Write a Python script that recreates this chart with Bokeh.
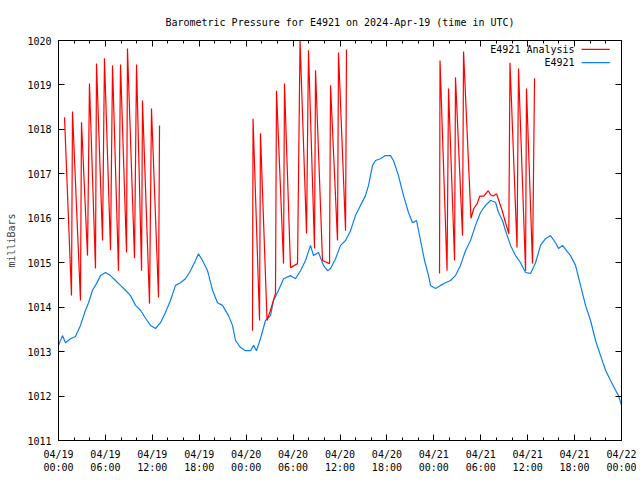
import math
from bokeh.plotting import figure
from bokeh.models import LinearAxis, FixedTicker, Range1d, CustomLabelingPolicy
from bokeh.core.properties import value
from bokeh.embed import file_html
from bokeh.resources import INLINE

NaN = float("nan")

TITLE = "Barometric Pressure for E4921 on 2024-Apr-19 (time in UTC)"
Y_LABEL = "milliBars"
SERIES_ANALYSIS = "E4921 Analysis"
SERIES_OBS = "E4921"

# hours since 2024-04-19 00:00 UTC
x_tick_hours = [0, 6, 12, 18, 24, 30, 36, 42, 48, 54, 60, 66, 72]
x_tick_labels = ["04/19\n00:00", "04/19\n06:00", "04/19\n12:00", "04/19\n18:00",
                 "04/20\n00:00", "04/20\n06:00", "04/20\n12:00", "04/20\n18:00",
                 "04/21\n00:00", "04/21\n06:00", "04/21\n12:00", "04/21\n18:00",
                 "04/22\n00:00"]
x_minor_hours = list(range(0, 73, 2))
y_ticks = [1011, 1012, 1013, 1014, 1015, 1016, 1017, 1018, 1019, 1020]

# E4921 observed pressure
obs_hours = [0.0, 0.51, 0.90, 1.53, 2.17, 2.81, 3.45, 3.84, 4.35, 4.86, 5.37, 6.01,
             6.65, 7.29, 7.93, 8.57, 9.21, 9.85, 10.49, 11.13, 11.77, 12.41, 13.05,
             13.68, 14.32, 14.96, 15.60, 16.24, 16.88, 17.52, 17.90, 18.42, 19.06,
             19.70, 20.33, 20.97, 21.74, 22.25, 22.64, 23.28, 23.92, 24.56, 24.94,
             25.32, 25.83, 26.47, 27.11, 27.50, 28.14, 28.78, 29.67, 30.31, 30.95,
             31.59, 32.23, 32.61, 33.25, 33.89, 34.40, 34.79, 35.43, 36.07, 36.71,
             37.34, 37.98, 38.62, 39.26, 39.65, 40.16, 40.54, 41.18, 41.82, 42.46,
             42.84, 43.48, 44.12, 44.76, 45.27, 45.79, 46.30, 46.81, 47.32, 47.58,
             48.22, 48.86, 49.49, 50.13, 50.77, 51.41, 52.05, 52.69, 53.33, 53.97,
             54.61, 55.25, 55.89, 56.27, 56.78, 57.17, 57.81, 58.45, 59.09, 59.73,
             60.37, 61.01, 61.64, 62.28, 62.92, 63.56, 63.95, 64.46, 64.97, 65.48,
             66.12, 66.76, 67.40, 68.04, 68.68, 69.32, 69.96, 70.60, 71.24, 71.62,
             72.0]
obs_pressure = [1013.14, 1013.36, 1013.20, 1013.29, 1013.34, 1013.59, 1013.93, 1014.10,
                1014.38, 1014.53, 1014.71, 1014.78, 1014.71, 1014.60, 1014.49, 1014.38,
                1014.26, 1014.04, 1013.93, 1013.75, 1013.59, 1013.52, 1013.65, 1013.88,
                1014.15, 1014.49, 1014.55, 1014.64, 1014.82, 1015.05, 1015.20, 1015.05,
                1014.82, 1014.38, 1014.10, 1014.04, 1013.81, 1013.59, 1013.25, 1013.09,
                1013.02, 1013.02, 1013.14, 1013.02, 1013.29, 1013.70, 1013.81, 1014.15,
                1014.38, 1014.64, 1014.71, 1014.64, 1014.82, 1015.05, 1015.39, 1015.16,
                1015.23, 1014.94, 1014.82, 1014.87, 1015.09, 1015.39, 1015.50, 1015.72,
                1016.06, 1016.29, 1016.51, 1016.74, 1017.19, 1017.30, 1017.34, 1017.41,
                1017.41, 1017.30, 1016.96, 1016.51, 1016.13, 1015.90, 1015.95, 1015.50,
                1015.05, 1014.71, 1014.49, 1014.42, 1014.49, 1014.55, 1014.60, 1014.71,
                1014.94, 1015.27, 1015.50, 1015.84, 1016.13, 1016.29, 1016.40, 1016.36,
                1016.13, 1015.95, 1015.72, 1015.39, 1015.16, 1015.00, 1014.78, 1014.76,
                1015.00, 1015.39, 1015.54, 1015.61, 1015.45, 1015.32, 1015.39, 1015.27,
                1015.16, 1014.94, 1014.49, 1014.04, 1013.70, 1013.25, 1012.91, 1012.58,
                1012.35, 1012.13, 1012.01, 1011.79]

# E4921 Analysis (gaps where no analysis)
ana_hours = [0.77, 1.66, 1.79, 2.81, 2.94, 3.71, 3.96, 4.73, 4.86, 5.63, 5.88, 6.65,
             6.91, 7.67, 7.93, 8.70, 8.82, 9.72, 9.98, 10.62, 10.74, 11.64, 11.89,
             12.79, 12.92,
             NaN,
             24.81, 24.88, 25.71, 25.83, 26.67, 27.11, 27.75, 27.88, 28.78, 28.90,
             29.67, 30.57, 30.89, 31.72, 31.97, 32.74, 32.87, 33.76, 34.66, 34.79,
             35.68, 35.81, 36.71, 36.83,
             NaN,
             48.73, 48.79, 49.69, 49.88, 50.65, 50.77, 51.67, 51.80, 52.75, 53.11,
             53.55, 53.88, 54.39, 54.96, 55.25, 55.60, 56.02, 56.31, 56.75, 57.17,
             57.59, 57.74, 58.64, 58.83, 59.73, 59.85, 60.62, 60.88]
ana_pressure = [1018.27, 1014.26, 1018.40, 1014.15, 1018.16, 1015.16, 1019.03, 1014.87,
                1019.48, 1015.50, 1019.60, 1015.28, 1019.44, 1014.82, 1019.46, 1015.23,
                1019.82, 1015.10, 1019.46, 1014.82, 1018.65, 1014.08, 1018.47, 1014.22,
                1018.09,
                NaN,
                1013.47, 1018.24, 1013.70, 1017.91, 1013.70, 1013.93, 1014.31, 1018.87,
                1014.98, 1019.03, 1014.89, 1014.98, 1020.00, 1015.66, 1019.78, 1015.32,
                1019.33, 1015.05, 1014.98, 1018.99, 1015.50, 1019.73, 1015.72, 1019.80,
                NaN,
                1014.76, 1019.55, 1014.82, 1018.92, 1015.05, 1019.17, 1015.61, 1019.75,
                1016.00, 1016.22, 1016.33, 1016.50, 1016.50, 1016.62, 1016.53, 1016.50,
                1016.55, 1016.40, 1016.17, 1015.90, 1015.65, 1019.50, 1015.34, 1019.37,
                1014.82, 1018.92, 1014.98, 1019.15]

FONT = "DejaVu Sans Mono"
RED = "#ff0000"
BLUE = "#0a80f0"

p = figure(width=636, height=476, output_backend="svg", toolbar_location=None,
           x_range=Range1d(0, 72), y_range=Range1d(1011, 1020),
           min_border_left=58, min_border_right=15, min_border_top=40,
           min_border_bottom=36)
p.grid.visible = False
p.outline_line_color = "black"
p.outline_line_width = 1
p.background_fill_color = "white"
p.border_fill_color = "white"

xt = FixedTicker(ticks=x_tick_hours, minor_ticks=x_minor_hours)
yt = FixedTicker(ticks=y_ticks, minor_ticks=[])

left = p.left[0]
bottom = p.below[0]
left.ticker = yt
bottom.ticker = xt
bottom.major_label_overrides = {h: lab for h, lab in zip(x_tick_hours, x_tick_labels)}
left.major_label_overrides = {t: str(t) for t in y_ticks}
left.axis_label = Y_LABEL
left.axis_label_text_font = FONT
left.axis_label_text_font_size = "10px"
left.axis_label_text_font_style = "normal"
left.axis_label_standoff = 7

# mirrored tick marks (no labels) on top and right, as gnuplot draws them;
# the top one also carries the chart title
no_labels = CustomLabelingPolicy(code="return new Set()")
top = LinearAxis(ticker=xt, major_label_policy=no_labels,
                 major_label_overrides={h: "" for h in x_tick_hours},
                 axis_label=TITLE)
right = LinearAxis(ticker=yt, major_label_policy=no_labels,
                   major_label_overrides={t: "" for t in y_ticks})
p.add_layout(top, "above")
p.add_layout(right, "right")

for ax in (left, bottom, top, right):
    ax.axis_line_color = "black"
    ax.major_tick_line_color = "black"
    ax.minor_tick_line_color = "black"
    ax.major_tick_in = 6
    ax.major_tick_out = 0
    ax.minor_tick_in = 3
    ax.minor_tick_out = 0
    ax.major_label_text_font = FONT
    ax.major_label_text_font_size = "10px"
    ax.major_label_text_color = "black"
    ax.major_label_standoff = 7

bottom.major_label_standoff = 8
for ax in (top, right):
    ax.major_label_standoff = 0

top.axis_label_text_font = FONT
top.axis_label_text_font_size = "10px"
top.axis_label_text_font_style = "normal"
top.axis_label_text_color = "black"
top.axis_label_standoff = 13

p.line(obs_hours, obs_pressure, line_color=BLUE, line_width=1.2)
p.line(ana_hours, ana_pressure, line_color=RED, line_width=1.2)

# key (gnuplot style: text then sample line), positioned in data units
KEY_TEXT_X = 66.0
KEY_LINE_X0 = 66.9
KEY_LINE_X1 = 70.5
KEY_ROWS_Y = [1019.8, 1019.5]
p.text(x=[KEY_TEXT_X, KEY_TEXT_X], y=KEY_ROWS_Y, text=[SERIES_ANALYSIS, SERIES_OBS],
       text_align="right", text_baseline="middle",
       text_font=value(FONT), text_font_size="10px", text_color="black")
p.segment(x0=[KEY_LINE_X0, KEY_LINE_X0], y0=KEY_ROWS_Y, x1=[KEY_LINE_X1, KEY_LINE_X1],
          y1=KEY_ROWS_Y, line_color=[RED, BLUE], line_width=1.2)

open("out.html", "w").write(file_html(p, INLINE))
